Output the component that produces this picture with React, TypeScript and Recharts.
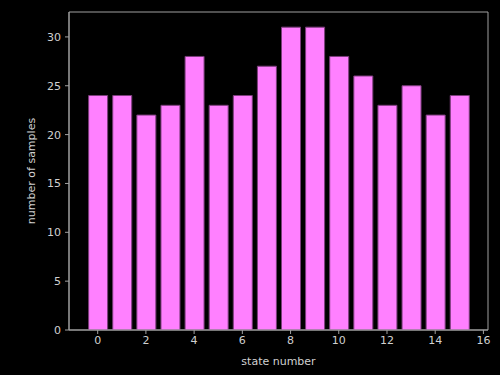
import React from "react";
import { BarChart, Bar, XAxis, YAxis, ReferenceArea } from "recharts";

const states = [0, 1, 2, 3, 4, 5, 6, 7, 8, 9, 10, 11, 12, 13, 14, 15];
const samples = [24, 24, 22, 23, 28, 23, 24, 27, 31, 31, 28, 26, 23, 25, 22, 24];
const xTicks = [0, 2, 4, 6, 8, 10, 12, 14, 16];
const yTicks = [0, 5, 10, 15, 20, 25, 30];

const data = states.map((s, i) => ({ state: s, count: samples[i] }));

const FONT = "'DejaVu Sans', sans-serif";
const SPINE = "#a0a0a0";
const TEXT = "#d0d0d0";
const X_DOMAIN: [number, number] = [-1.19, 16.19];
const Y_DOMAIN: [number, number] = [0, 32.55];

export default function App() {
  return (
    <div style={{ position: "fixed", left: 0, top: 0, width: 500, height: 375, background: "#000" }}>
      <BarChart
        width={500}
        height={375}
        data={data}
        margin={{ top: 12, right: 12, bottom: 0, left: 0 }}
        barSize={19}
        style={{ fontFamily: FONT }}
      >
        <XAxis
          dataKey="state"
          type="number"
          domain={X_DOMAIN}
          ticks={xTicks}
          height={45}
          stroke={SPINE}
          tickSize={4}
          tickMargin={2}
          tick={{ fill: TEXT, fontSize: 11, fontFamily: FONT }}
          allowDataOverflow
          label={{ value: "state number", position: "insideBottom", offset: 10, fill: TEXT, fontSize: 11, fontFamily: FONT }}
        />
        <YAxis
          type="number"
          domain={Y_DOMAIN}
          ticks={yTicks}
          width={69}
          stroke={SPINE}
          tickSize={4}
          tickMargin={4}
          tick={{ fill: TEXT, fontSize: 11, fontFamily: FONT }}
          allowDataOverflow
          label={{ value: "number of samples", angle: -90, position: "insideLeft", offset: 31, fill: TEXT, fontSize: 11, fontFamily: FONT, style: { textAnchor: "middle" } }}
        />
        <Bar dataKey="count" fill="#ff80ff" stroke="#7a3d7a" strokeWidth={1} isAnimationActive={false} />
        {/* axes frame */}
        <ReferenceArea
          x1={X_DOMAIN[0]}
          x2={X_DOMAIN[1]}
          y1={Y_DOMAIN[0]}
          y2={Y_DOMAIN[1]}
          fill="none"
          fillOpacity={0}
          stroke={SPINE}
          strokeWidth={1}
          strokeOpacity={1}
          ifOverflow="visible"
        />
      </BarChart>
    </div>
  );
}
